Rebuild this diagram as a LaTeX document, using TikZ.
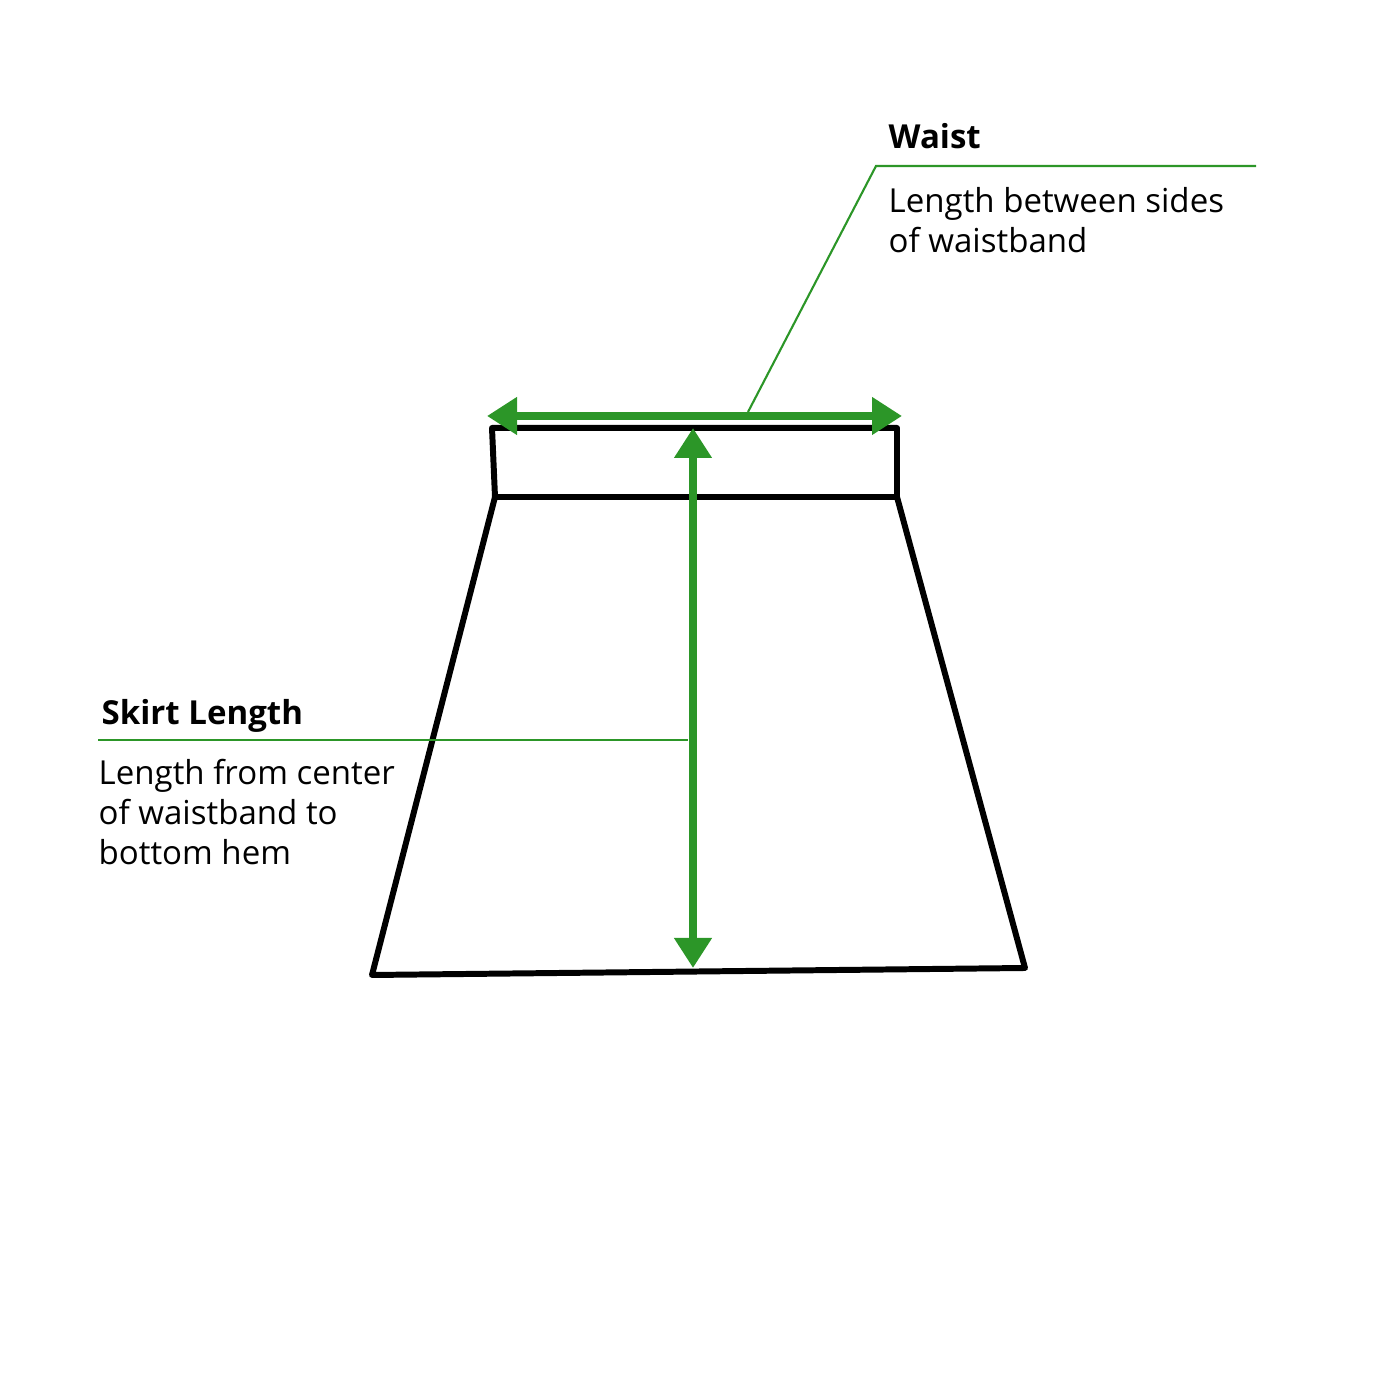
\documentclass[tikz,border=0pt]{standalone}
\usepackage{fontspec}
\setmainfont{Open Sans}
\usetikzlibrary{positioning,arrows.meta}
\definecolor{measgreen}{RGB}{44,150,40}
\begin{document}
\begin{tikzpicture}
  [outline/.style={draw,line width=1.7pt,line join=round,line cap=round},
   measure/.style={draw=measgreen,line width=2.3pt,{Triangle[length=3mm,width=3.6mm]}-{Triangle[length=3mm,width=3.6mm]}},
   leader/.style={draw=measgreen,line width=0.6pt},
   label/.style={inner sep=0pt,anchor=base west,font=\fontsize{9.4}{11.4}\selectfont,align=left}]
  \useasboundingbox (0,0) rectangle (14,14);
  % skirt outline
  \coordinate (wtl) at (4.92,9.72);
  \coordinate (wtr) at (8.97,9.72);
  \coordinate (wbl) at (4.95,9.03);
  \coordinate (wbr) at (8.97,9.03);
  \coordinate (hl) at (3.72,4.25);
  \coordinate (hr) at (10.25,4.32);
  \draw [outline] (wtl) -- (wtr) -- (wbr) -- (wbl) -- cycle;
  \draw [outline] (wbl) -- (hl) -- (hr) -- (wbr);
  % measurements
  \coordinate (waistL) at (4.87,9.84);
  \coordinate (waistR) at (9.02,9.84);
  \coordinate (lenT) at (6.93,9.72);
  \coordinate (lenB) at (6.93,4.32);
  \draw [measure] (waistL) -- (waistR);
  \draw [measure] (lenT) -- (lenB);
  % waist label
  \coordinate (waistfoot) at (7.48,9.88);
  \coordinate (waistknee) at (8.76,12.34);
  \coordinate (waistend) at (12.56,12.34);
  \draw [leader] (waistfoot) -- (waistknee) -- (waistend);
  \node (waisttitle) [label] at (8.88,12.51) {\textbf{Waist}};
  \node (waistdesc) [label] at (8.88,11.47) {Length between sides\\of waistband};
  % skirt length label
  \coordinate (lenstart) at (0.98,6.60);
  \coordinate (lenend) at (6.88,6.60);
  \draw [leader] (lenstart) -- (lenend);
  \node (lentitle) [label] at (1.01,6.75) {\textbf{Skirt Length}};
  \node (lendesc) [label] at (0.98,5.35) {Length from center\\of waistband to\\bottom hem};
\end{tikzpicture}
\end{document}
